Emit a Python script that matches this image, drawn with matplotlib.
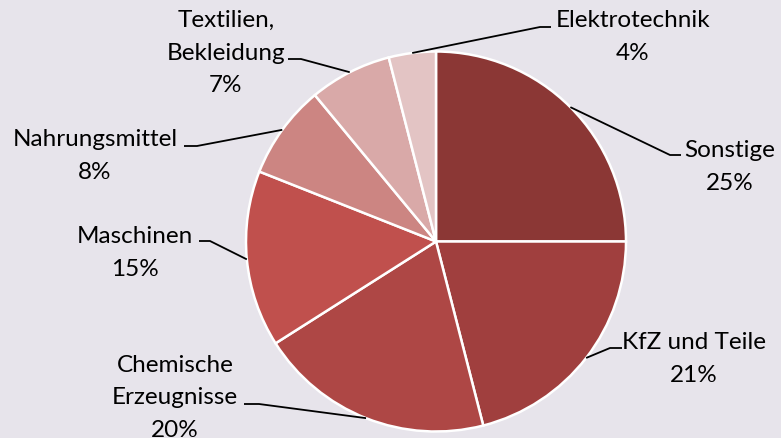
import numpy as np
import matplotlib
matplotlib.use("Agg")
import matplotlib.pyplot as plt

# Daten
kategorien = ["Sonstige", "KfZ und Teile", "Chemische\nErzeugnisse", "Maschinen",
              "Nahrungsmittel", "Textilien,\nBekleidung", "Elektrotechnik"]
anteile = [25, 21, 20, 15, 8, 7, 4]
farben = ["#8B3735", "#A03F3E", "#AE4745", "#C0504D", "#CC8582", "#D9A9A8", "#E3C4C4"]

# Layout der Beschriftungen (Pixel, y von oben): Textmitte, Knickpunkt, Ende der Waagerechten
text_pos = [(730, 167), (694, 359), (175, 398), (135, 253), (95, 156), (226, 53), (633, 37)]
knick = [(670, 156), (610, 349), (259, 405), (210, 242), (197, 147), (301, 60), (540, 28)]
ende = [(681, 156), (622, 349), (244, 405), (199, 242), (184, 147), (288, 60), (551, 28)]

W, H = 781, 439
bg = "#E7E4EB"
plt.rcParams['font.family'] = ['Lato', 'DejaVu Sans']

fig = plt.figure(figsize=(W / 100, H / 100), dpi=100, facecolor=bg)
ax = fig.add_axes([0, 0, 1, 1])
ax.set_facecolor(bg)

cx, cy, r = 436, H - 242.5, 190
wedges, _ = ax.pie(anteile, colors=farben, startangle=90, counterclock=False,
                   center=(cx, cy), radius=r, frame=True,
                   wedgeprops=dict(edgecolor="white", linewidth=1.8))
ax.set_xlim(0, W)
ax.set_ylim(0, H)
ax.axis("off")

for w, kat, wert, tp, kp, ep in zip(wedges, kategorien, anteile, text_pos, knick, ende):
    mid = np.deg2rad((w.theta1 + w.theta2) / 2)
    px, py = cx + r * np.cos(mid), cy + r * np.sin(mid)
    ax.plot([px, kp[0], ep[0]], [py, H - kp[1], H - ep[1]], color="black", lw=1.3,
            solid_capstyle="butt")
    ax.text(tp[0], H - tp[1], f"{kat}\n{wert}%", ha="center", va="center",
            fontsize=17.5, linespacing=1.66, color="black")

fig.savefig("out.png", dpi=100, facecolor=bg)
